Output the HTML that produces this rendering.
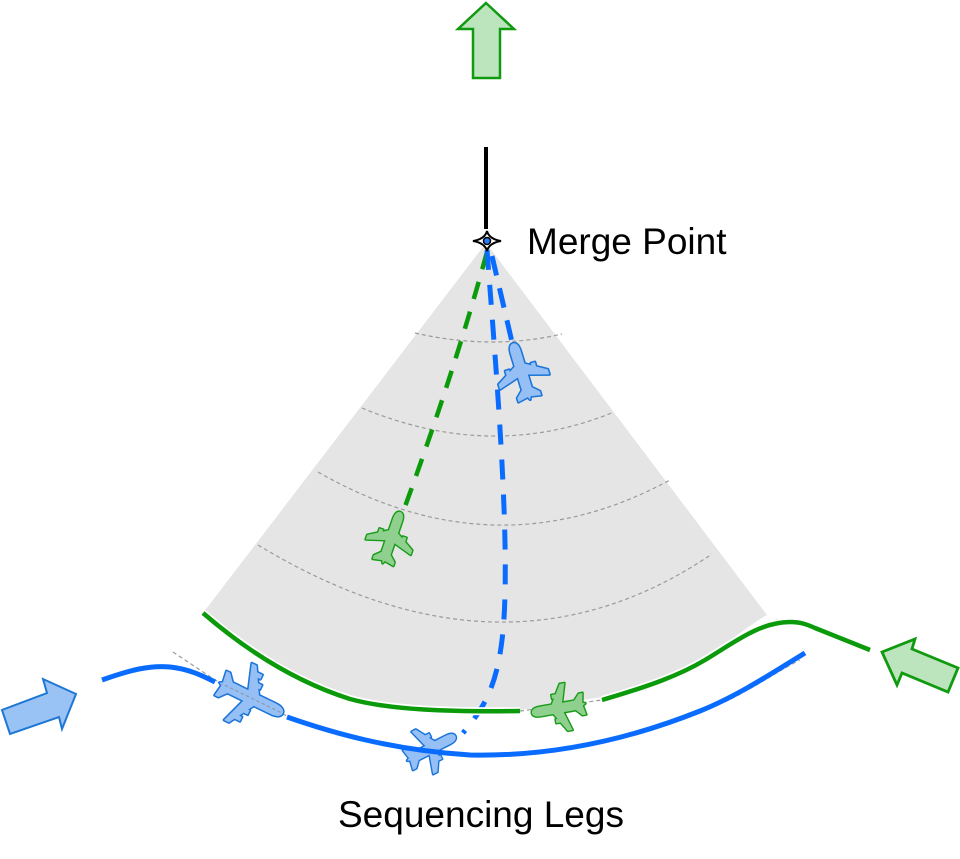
<!DOCTYPE html>
<html><head><meta charset="utf-8"><style>
html,body{margin:0;padding:0;background:#fff;}
svg{display:block;}
text{font-family:"Liberation Sans",Arial,sans-serif;}
</style></head><body>
<svg width="960" height="859" viewBox="0 0 960 859" xmlns="http://www.w3.org/2000/svg">
<defs>
<path id="p1" d="M0,-30 C3.5,-30 5,-26 5,-21 L5,-8 L25,4 L25,9 L5,3 L5,16 L11.5,22 L11.5,26 L1.5,24 L0,27 L-1.5,24 L-11.5,26 L-11.5,22 L-5,16 L-5,3 L-25,9 L-25,4 L-5,-8 L-5,-21 C-5,-26 -3.5,-30 0,-30 Z M11,-6.5 L15,-6.5 L15,2 L11,2 Z M-15,-6.5 L-11,-6.5 L-11,2 L-15,2 Z"/>
<path id="p2" d="M0,-32 C3.5,-32 5,-28 5,-23 L5,-7 L27,6 L27,10.5 L5,3 L5,18 L11.5,23.5 L11.5,27 L1.5,25.5 L0,28 L-1.5,25.5 L-11.5,27 L-11.5,23.5 L-5,18 L-5,3 L-27,10.5 L-27,6 L-5,-7 L-5,-23 C-5,-28 -3.5,-32 0,-32 Z M10,-5.5 L14,-5.5 L14,2.5 L10,2.5 Z M-14,-5.5 L-10,-5.5 L-10,2.5 L-14,2.5 Z M18,-2 L22,-2 L22,5.5 L18,5.5 Z M-22,-2 L-18,-2 L-18,5.5 L-22,5.5 Z"/>
</defs>

<!-- top arrow -->
<polygon points="486,3 514,29 500,29 500,78 473,78 473,29 458,29" fill="#bde5bd" stroke="#109a10" stroke-width="2.5" stroke-linejoin="miter"/>

<!-- cone -->
<path d="M486,243 L203,613 C240,645 290,680 350,699 C390,710 450,712 520,710 L602,697 C650,684 680,672 705,657 C730,641 750,625 767,615 Z" fill="#e5e5e5"/>

<!-- arcs -->
<g fill="none" stroke="#9a9a9a" stroke-width="1.2" stroke-dasharray="4 3">
<path d="M415,333 Q491.5,350.5 562,334"/>
<path d="M362,408 Q492,462 614,412"/>
<path d="M318,472 Q496,574 670,480"/>
<path d="M258,545 Q505,694.5 712,554"/>
<path d="M173,652 L215,680 L287,716"/>
<path d="M520,711 L602,700"/>
<path d="M762,628 L778,619"/>
<path d="M725,702 C750,690 775,673 800,660" stroke="#b0b0b0"/>
</g>

<!-- black line -->
<line x1="486" y1="147" x2="486" y2="229" stroke="#000" stroke-width="4"/>

<!-- dashed tracks -->
<path d="M487,252 Q455,370 403,512" fill="none" stroke="#0a9a0a" stroke-width="4.5" stroke-dasharray="18 13"/>
<path d="M487,250 C497,380 512,560 502,640 C496,690 482,710 463,733" fill="none" stroke="#0a6cff" stroke-width="5" stroke-dasharray="20 15"/>
<path d="M492,256 L512,342" fill="none" stroke="#0a6cff" stroke-width="5" stroke-dasharray="20 13"/>

<!-- merge symbol -->
<path d="M473,241 Q485,239 487,231 Q489,239 501,241 Q489,243 487,251 Q485,243 473,241 Z" fill="#fff" stroke="#000" stroke-width="2"/>
<circle cx="487" cy="241" r="3.5" fill="#2a7cff" stroke="#000" stroke-width="1.5"/>

<!-- green solid sequencing leg (with white underlay) -->
<path d="M203,613 C240,645 290,680 350,699 C390,710 450,712 520,711" fill="none" stroke="#fff" stroke-width="8"/>
<path d="M602,700 C650,686 680,675 705,660 C735,642 760,622 790,622 C800,622 806,624 815,628 L870,650" fill="none" stroke="#fff" stroke-width="8"/>
<path d="M203,613 C240,645 290,680 350,699 C390,710 450,712 520,711" fill="none" stroke="#0a9a0a" stroke-width="4.5"/>
<path d="M602,700 C650,686 680,675 705,660 C735,642 760,622 790,622 C800,622 806,624 815,628 L870,650" fill="none" stroke="#0a9a0a" stroke-width="4.5"/>

<!-- blue solid leg -->
<path d="M102,680 C130,670 150,665 170,667 C190,669 205,677 215,682" fill="none" stroke="#0a6cff" stroke-width="5"/>

<!-- planes -->
<g transform="translate(522,373) rotate(-17) scale(1.03)">
<use href="#p1" fill="none" stroke="#1a74d9" stroke-width="3" stroke-linejoin="round"/>
<use href="#p1" fill="#95bff5"/>
</g>
<g transform="translate(391,539) rotate(19) scale(0.95)">
<use href="#p1" fill="none" stroke="#179c17" stroke-width="3" stroke-linejoin="round"/>
<use href="#p1" fill="#8fd08f"/>
</g>
<g transform="translate(249,697) rotate(116) scale(1.17)">
<use href="#p2" fill="none" stroke="#1a74d9" stroke-width="2.6" stroke-linejoin="round"/>
<use href="#p2" fill="#95bff5"/>
<line x1="0" y1="-30" x2="0" y2="26" stroke="#8a9ab0" stroke-width="1" stroke-dasharray="3 2"/>
</g>
<g transform="translate(430,749) rotate(63) scale(0.95)">
<use href="#p1" fill="none" stroke="#1a74d9" stroke-width="3" stroke-linejoin="round"/>
<use href="#p1" fill="#95bff5"/>
</g>
<g transform="translate(560,708) rotate(-100) scale(0.95)">
<use href="#p1" fill="none" stroke="#179c17" stroke-width="3" stroke-linejoin="round"/>
<use href="#p1" fill="#8fd08f"/>
</g>

<path d="M287,717 C330,732 390,750 470,755 C560,757 640,735 700,711 C740,695 780,668 805,653" fill="none" stroke="#0a6cff" stroke-width="5"/>

<!-- side arrows -->
<polygon points="2,710 10,734 59,717 62,729 76,694 43,679 47,693" fill="#99c2f5" stroke="#1f77d4" stroke-width="2" stroke-linejoin="miter"/>
<polygon points="882,652 915,639 912,649 958,668 948,692 902,673 897,685" fill="#bde5bd" stroke="#109a10" stroke-width="2.8" stroke-linejoin="miter"/>

<!-- labels -->
<text x="527" y="254" font-size="37" fill="#000">Merge Point</text>
<text x="338" y="827" font-size="37" fill="#000">Sequencing Legs</text>
</svg>
</body></html>
